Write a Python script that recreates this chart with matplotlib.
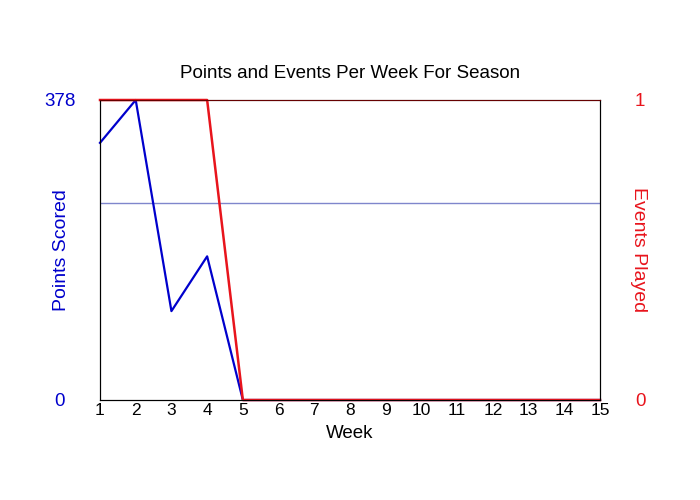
import matplotlib
matplotlib.use('Agg')
import matplotlib.pyplot as plt

plt.rcParams['font.family'] = ['Liberation Sans', 'DejaVu Sans']

weeks = list(range(1, 16))
points = [324, 378, 112, 181, 0, 0, 0, 0, 0, 0, 0, 0, 0, 0, 0]
events = [1, 1, 1, 1, 0, 0, 0, 0, 0, 0, 0, 0, 0, 0, 0]

played = [p for p, e in zip(points, events) if e > 0]
avg_points = sum(played) / len(played)

blue = '#0000cc'
red = '#e8141c'

fig = plt.figure(figsize=(7, 5), dpi=100)
ax = fig.add_axes([100 / 700, 0.2, 500 / 700, 0.6])
ax2 = ax.twinx()

ax.axhline(avg_points, color='#7f86cc', lw=1, zorder=1)
ax.plot(weeks, points, color=blue, lw=1.6, zorder=3, clip_on=False)
ax2.plot(weeks, events, color=red, lw=1.8, zorder=2, clip_on=False)

ax.set_xlim(1, 15)
ax.set_ylim(0, max(points))
ax2.set_ylim(0, 1)
ax.set_xticks(weeks)
ax.set_yticks([0, max(points)])
ax2.set_yticks([0, 1])

ax.tick_params(axis='x', length=0, pad=2, labelsize=12.5)
ax.tick_params(axis='y', length=0, pad=29, labelsize=13.5, labelcolor=blue)
ax2.tick_params(axis='y', length=0, pad=29, labelsize=13.5, labelcolor=red)
for t in ax.get_yticklabels() + ax2.get_yticklabels():
    t.set_ha('center')

for s in ['left', 'right', 'bottom']:
    ax2.spines[s].set_color('black')
ax2.spines['top'].set_color('#660000')

ax.set_xlabel('Week', fontsize=13.5, labelpad=5)
ax.set_ylabel('Points Scored', fontsize=14, color=blue)
ax2.set_ylabel('Events Played', fontsize=14, color=red, rotation=270)
ax.yaxis.set_label_coords(-0.078, 0.5)
ax2.yaxis.set_label_coords(1.078, 0.5)
for lab in [ax.yaxis.label, ax2.yaxis.label]:
    lab.set_va('center')
    lab.set_ha('center')
    lab.set_rotation_mode('default')
ax.set_title('Points and Events Per Week For Season', fontsize=13.5, pad=16)

fig.savefig('out.png', dpi=100)
